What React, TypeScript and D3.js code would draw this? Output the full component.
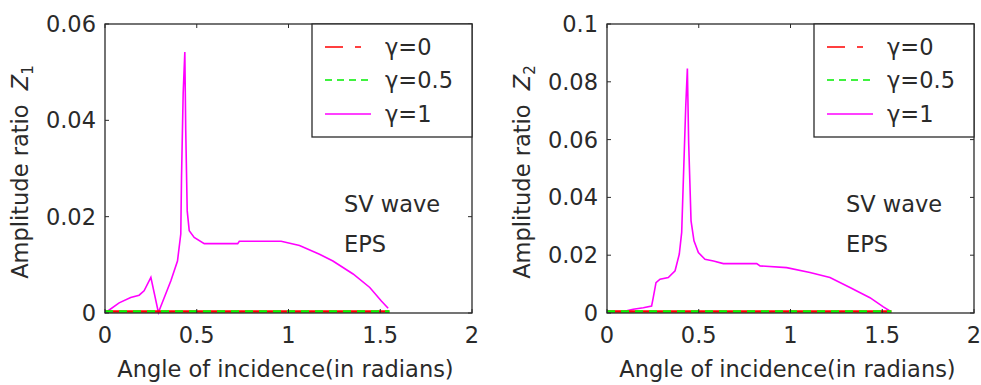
import React from "react";
import * as d3 from "d3";

// tick labels
const xTicks = [0, 0.5, 1, 1.5, 2];
const xTickLabels = ["0", "0.5", "1", "1.5", "2"];
const yTicksLeft = [0, 0.02, 0.04, 0.06];
const yTickLabelsLeft = ["0", "0.02", "0.04", "0.06"];
const yTicksRight = [0, 0.02, 0.04, 0.06, 0.08, 0.1];
const yTickLabelsRight = ["0", "0.02", "0.04", "0.06", "0.08", "0.1"];

const legendLabels = ["γ=0", "γ=0.5", "γ=1"];

// gamma = 0 and gamma = 0.5 lie on zero
const flatAngles = [0, 1.55];
const flatValues = [0, 0];

// left panel, Z1, gamma = 1
const leftAngles = [
  0, 0.077, 0.14, 0.186, 0.213, 0.25, 0.291, 0.359, 0.395, 0.413, 0.417, 0.426, 0.435, 0.44,
  0.448, 0.459, 0.486, 0.541, 0.723, 0.732, 0.96, 1.06, 1.169, 1.242, 1.352, 1.443, 1.506, 1.543,
];
const leftValues = [
  0, 0.0021, 0.0032, 0.0037, 0.0046, 0.0074, 0.0001, 0.0067, 0.0108, 0.0164, 0.0282, 0.0456,
  0.0542, 0.0379, 0.0212, 0.0171, 0.0157, 0.0144, 0.0144, 0.0149, 0.0149, 0.014, 0.0122, 0.0108,
  0.0081, 0.0053, 0.0025, 0.001,
];

// right panel, Z2, gamma = 1
const rightAngles = [
  0, 0.089, 0.143, 0.198, 0.243, 0.252, 0.267, 0.289, 0.334, 0.371, 0.394, 0.407, 0.416, 0.429,
  0.438, 0.445, 0.458, 0.474, 0.498, 0.534, 0.58, 0.634, 0.816, 0.834, 0.979, 1.106, 1.215, 1.324,
  1.433, 1.506, 1.542,
];
const rightValues = [
  0.0005, 0.0005, 0.0013, 0.0018, 0.0024, 0.0053, 0.0105, 0.0117, 0.0123, 0.0146, 0.0204, 0.0279,
  0.0458, 0.0713, 0.0846, 0.059, 0.0319, 0.025, 0.0209, 0.0186, 0.018, 0.0171, 0.0171, 0.0163,
  0.0157, 0.014, 0.0123, 0.0088, 0.0053, 0.0021, 0.0007,
];

const FONT = "'DejaVu Sans', sans-serif";
const FS = 22.5;
const INK = "#2a2a2a";

type PanelProps = {
  left: number;
  yMax: number;
  yTicks: number[];
  yTickLabels: string[];
  angles: number[];
  values: number[];
  sub: string;
};

const Panel = ({ left, yMax, yTicks, yTickLabels, angles, values, sub }: PanelProps) => {
  const top = 24;
  const bottom = 313;
  const w = 367;
  const x = d3.scaleLinear().domain([0, 2]).range([left, left + w]);
  const y = d3.scaleLinear().domain([0, yMax]).range([bottom, top]);

  const line = d3
    .line<[number, number]>()
    .x((d) => x(d[0]))
    .y((d) => y(d[1]));

  const main = line(angles.map((a, i) => [a, values[i]] as [number, number])) || "";
  const flat = line(flatAngles.map((a, i) => [a, flatValues[i]] as [number, number])) || "";

  const right = left + w;
  const tk = 4;

  // legend
  const lgLeft = right - 160;
  const lgBottom = 137;
  const rowY = [47, 80, 114];

  return (
    <g fontFamily={FONT} fontSize={FS} fill={INK}>
      {/* curves */}
      <path d={main} fill="none" stroke="#ff00ff" strokeWidth={1.6} />
      <path d={flat} fill="none" stroke="#ff0000" strokeWidth={2.4} transform="translate(0,-1.5)" />
      <path d={flat} fill="none" stroke="#00ff00" strokeWidth={2.4} strokeDasharray="8,6" transform="translate(0,-1.5)" />

      {/* box */}
      <rect x={left} y={top} width={w} height={bottom - top} fill="none" stroke={INK} strokeWidth={1.3} />

      {/* x ticks */}
      {xTicks.map((t, i) => (
        <g key={"x" + i}>
          <line x1={x(t)} x2={x(t)} y1={bottom} y2={bottom - tk} stroke={INK} />
          <line x1={x(t)} x2={x(t)} y1={top} y2={top + tk} stroke={INK} />
          <text x={x(t)} y={343} textAnchor="middle">
            {xTickLabels[i]}
          </text>
        </g>
      ))}

      {/* y ticks */}
      {yTicks.map((t, i) => (
        <g key={"y" + i}>
          <line x1={left} x2={left + tk} y1={y(t)} y2={y(t)} stroke={INK} />
          <line x1={right} x2={right - tk} y1={y(t)} y2={y(t)} stroke={INK} />
          <text x={left - 9} y={y(t) + 8} textAnchor="end">
            {yTickLabels[i]}
          </text>
        </g>
      ))}

      {/* axis labels */}
      <text x={(left + right) / 2 - 3} y={377} textAnchor="middle">
        Angle of incidence(in radians)
      </text>
      <text transform={`translate(${left - 77},172) rotate(-90)`} textAnchor="middle">
        Amplitude ratio{"\u00a0\u00a0"}
        <tspan fontStyle="italic">Z</tspan>
        <tspan fontSize={15} dy={5}>
          {sub}
        </tspan>
      </text>

      {/* annotation */}
      <text x={left + 239} y={212}>SV wave</text>
      <text x={left + 239} y={252}>EPS</text>

      {/* legend */}
      <rect x={lgLeft} y={top} width={right - lgLeft} height={lgBottom - top} fill="#fff" stroke={INK} strokeWidth={1.3} />
      {legendLabels.map((lab, i) => (
        <g key={"lg" + i}>
          <line
            x1={lgLeft + 13}
            x2={lgLeft + 59}
            y1={rowY[i]}
            y2={rowY[i]}
            stroke={i === 0 ? "#ff0000" : i === 1 ? "#00ee00" : "#ff00ff"}
            strokeWidth={1.6}
            strokeDasharray={i === 0 ? "18,12,6,100" : i === 1 ? "7,5" : undefined}
          />
          <text x={lgLeft + 73} y={rowY[i] + 8}>
            {lab}
          </text>
        </g>
      ))}
    </g>
  );
};

export default function App() {
  return (
    <svg
      width={981}
      height={385}
      style={{ position: "absolute", left: 0, top: 0, background: "#fff" }}
    >
      <rect width={981} height={385} fill="#fff" />
      <Panel
        left={105}
        yMax={0.06}
        yTicks={yTicksLeft}
        yTickLabels={yTickLabelsLeft}
        angles={leftAngles}
        values={leftValues}
        sub="1"
      />
      <Panel
        left={607}
        yMax={0.1}
        yTicks={yTicksRight}
        yTickLabels={yTickLabelsRight}
        angles={rightAngles}
        values={rightValues}
        sub="2"
      />
    </svg>
  );
}
